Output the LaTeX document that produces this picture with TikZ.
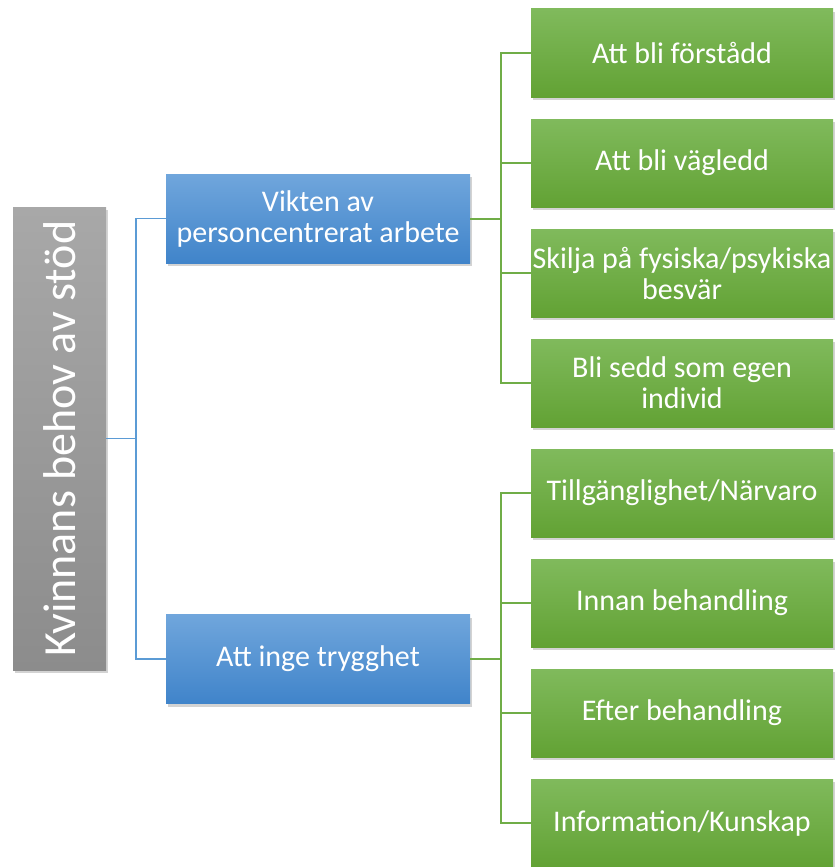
\documentclass[tikz,border=0pt]{standalone}
\usepackage{fontspec}
\setmainfont{Carlito}
\usetikzlibrary{shadows}
\definecolor{bluetop}{RGB}{112,166,220}
\definecolor{bluebot}{RGB}{64,132,202}
\definecolor{greentop}{RGB}{128,186,92}
\definecolor{greenbot}{RGB}{98,162,52}
\definecolor{graytop}{RGB}{168,168,168}
\definecolor{graybot}{RGB}{140,140,140}
\definecolor{blueline}{RGB}{91,155,213}
\definecolor{greenline}{RGB}{112,173,71}
\begin{document}
\begin{tikzpicture}[x=1pt,y=-1pt,
    box/.style={rectangle, text=white, align=center, inner xsep=0pt, font=\fontsize{30}{31}\selectfont,
        drop shadow={shadow xshift=2pt, shadow yshift=-3pt, opacity=0.35}},
    rootbox/.style={box, minimum width=93pt, minimum height=463pt, top color=graytop, bottom color=graybot},
    bluebox/.style={box, minimum width=304pt, minimum height=89pt, top color=bluetop, bottom color=bluebot},
    greenbox/.style={box, minimum width=302pt, minimum height=88pt, top color=greentop, bottom color=greenbot},
    bline/.style={draw=blueline, line width=1.5pt},
    gline/.style={draw=greenline, line width=2pt}]
    \useasboundingbox (0,0) rectangle (835,867);
    \node[rootbox, label={[rotate=90, text=white, font=\fontsize{46}{48}\selectfont]center:Kvinnans behov av stöd}] (root) at (59.5,438.5) {};
    \node[bluebox] (vikten) at (318,218.5) {Vikten av\\personcentrerat arbete};
    \node[bluebox] (trygg) at (318,659) {Att inge trygghet};
    \node[greenbox] (g1) at (682,53) {Att bli förstådd};
    \node[greenbox] (g2) at (682,163) {Att bli vägledd};
    \node[greenbox] (g3) at (682,273) {Skilja på fysiska/psykiska\\besvär};
    \node[greenbox] (g4) at (682,383) {Bli sedd som egen\\individ};
    \node[greenbox] (g5) at (682,493) {Tillgänglighet/Närvaro};
    \node[greenbox] (g6) at (682,603) {Innan behandling};
    \node[greenbox] (g7) at (682,713) {Efter behandling};
    \node[greenbox] (g8) at (682,823) {Information/Kunskap};
    \coordinate (rj) at (136,438.5);
    \coordinate (vj) at (501,218.5);
    \coordinate (tj) at (501,659);
    \draw[bline] (root) -- (rj);
    \draw[bline] (rj) |- (vikten);
    \draw[bline] (rj) |- (trygg);
    \draw[gline] (vikten) -- (vj);
    \draw[gline] (trygg) -- (tj);
    \foreach \i in {1,...,4}
        \draw[gline] (vj) |- (g\i);
    \foreach \i in {5,...,8}
        \draw[gline] (tj) |- (g\i);
\end{tikzpicture}
\end{document}
